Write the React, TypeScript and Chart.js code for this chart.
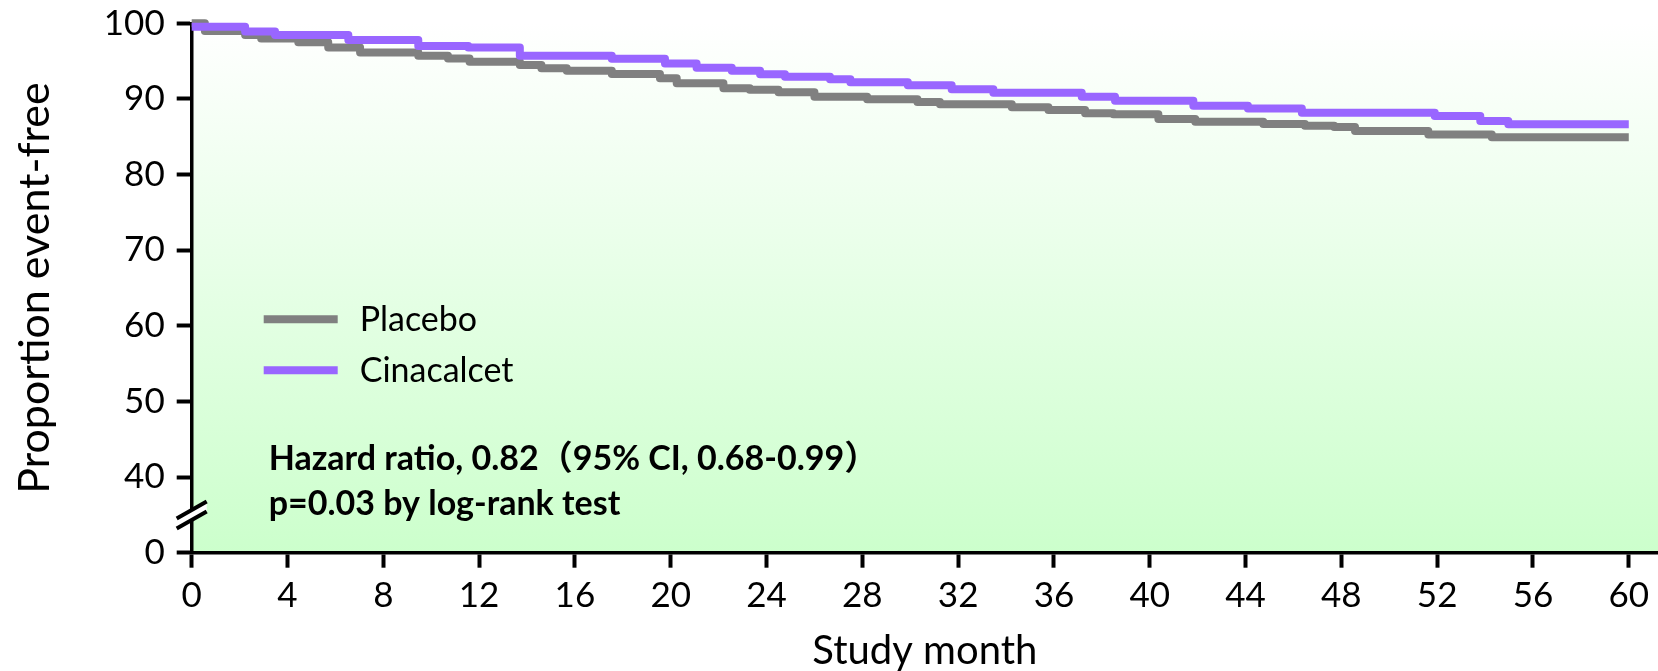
import React, { useEffect, useRef } from 'react';
import { Chart, registerables } from 'chart.js';

Chart.register(...registerables);

// Kaplan–Meier curves: event times (months) and proportion event-free (%) after each step
const placeboMonths = [0, 0.55, 2.23, 2.9, 4.45, 5.7, 7.03, 9.46, 10.7, 11.6, 13.7, 14.6, 15.66, 17.54, 19.55, 20.25, 22.2, 23.3, 24.5, 26.0, 28.2, 30.3, 31.24, 34.24, 35.77, 37.3, 38.48, 40.36, 41.9, 44.74, 46.48, 47.7, 48.57, 51.63, 54.28, 60];
const placeboValues = [100, 98.98, 98.45, 98.0, 97.5, 96.8, 96.15, 95.7, 95.35, 94.9, 94.5, 94.05, 93.73, 93.3, 92.72, 92.06, 91.4, 91.2, 90.87, 90.3, 89.95, 89.6, 89.28, 88.9, 88.53, 88.1, 87.96, 87.34, 86.98, 86.7, 86.46, 86.3, 85.75, 85.3, 84.92, 84.92];

const cinacalcetMonths = [0, 2.23, 3.48, 6.54, 9.46, 11.55, 13.7, 17.54, 19.76, 21.08, 22.55, 23.73, 24.77, 26.65, 27.5, 29.9, 31.73, 33.47, 37.16, 38.55, 41.82, 44.1, 46.35, 51.9, 53.8, 54.97, 60];
const cinacalcetValues = [99.55, 98.9, 98.45, 97.8, 97.0, 96.8, 95.7, 95.3, 94.7, 94.13, 93.73, 93.25, 92.94, 92.6, 92.2, 91.8, 91.27, 90.82, 90.3, 89.76, 89.1, 88.75, 88.17, 87.74, 87.08, 86.64, 86.64];

const monthTicks = [0, 4, 8, 12, 16, 20, 24, 28, 32, 36, 40, 44, 48, 52, 56, 60];
const percentTicks = [0, 40, 50, 60, 70, 80, 90, 100];

const legendLabels = ['Placebo', 'Cinacalcet'];
const annotationLines = ['Hazard ratio, 0.82（95% CI, 0.68-0.99）', 'p=0.03 by log-rank test'];

const GRAY = 'rgb(128,128,128)';
const PURPLE = 'rgb(153,102,255)';
const FONT = 'Lato, "Noto Sans CJK SC", sans-serif';

// The y axis is broken between 0 and 40: values of 40 and above are shifted down by 30
const BREAK_SHIFT = 30;
const toAxis = (v: number) => (v === 0 ? 0 : v - BREAK_SHIFT);
const fromAxis = (v: number) => (v === 0 ? 0 : v + BREAK_SHIFT);

const toPoints = (xs: number[], ys: number[]) => xs.map((x, i) => ({ x, y: toAxis(ys[i]) }));

const backgroundPlugin = {
  id: 'greenBackdrop',
  beforeDraw(chart: any) {
    const { ctx, chartArea: a } = chart;
    ctx.save();
    const g = ctx.createLinearGradient(0, a.top, 0, a.bottom);
    g.addColorStop(0, '#ffffff');
    g.addColorStop(1, '#ccffcc');
    ctx.fillStyle = g;
    ctx.fillRect(a.left, a.top, a.right - a.left, a.bottom - a.top);
    ctx.restore();
  },
};

const overlayPlugin = {
  id: 'overlay',
  afterDraw(chart: any) {
    const { ctx, chartArea: a, scales } = chart;
    ctx.save();

    // axis break marks between 0 and 40
    const yb = scales.y.getPixelForValue(5);
    const x0 = a.left - 15;
    const x1 = a.left + 15;
    const up0 = yb + 3.5, up1 = yb - 13.5;
    const lo0 = yb + 13.5, lo1 = yb - 3.5;
    ctx.fillStyle = '#ffffff';
    ctx.beginPath();
    ctx.moveTo(x0, up0);
    ctx.lineTo(x1, up1);
    ctx.lineTo(x1, lo1);
    ctx.lineTo(x0, lo0);
    ctx.closePath();
    ctx.fill();
    ctx.strokeStyle = '#000';
    ctx.lineWidth = 4;
    ctx.beginPath();
    ctx.moveTo(x0, up0);
    ctx.lineTo(x1, up1);
    ctx.moveTo(x0, lo0);
    ctx.lineTo(x1, lo1);
    ctx.stroke();

    // legend
    const colors = [GRAY, PURPLE];
    ctx.font = `34px ${FONT}`;
    ctx.textBaseline = 'middle';
    ctx.textAlign = 'left';
    legendLabels.forEach((label, i) => {
      const y = a.top + 296 + i * 51;
      ctx.strokeStyle = colors[i];
      ctx.lineWidth = 8;
      ctx.beginPath();
      ctx.moveTo(a.left + 72, y);
      ctx.lineTo(a.left + 146, y);
      ctx.stroke();
      ctx.fillStyle = '#000';
      ctx.fillText(label, a.left + 168, y + 1);
    });

    // statistics note
    ctx.font = `bold 34px ${FONT}`;
    ctx.textBaseline = 'alphabetic';
    annotationLines.forEach((line, i) => {
      ctx.fillText(line, a.left + 77, a.top + 447 + i * 45);
    });

    ctx.restore();
  },
};

export default function App() {
  const canvasRef = useRef<HTMLCanvasElement | null>(null);

  useEffect(() => {
    if (!canvasRef.current) return;
    const chart = new Chart(canvasRef.current, {
      type: 'line',
      data: {
        datasets: [
          {
            label: 'Cinacalcet',
            data: toPoints(cinacalcetMonths, cinacalcetValues),
            borderColor: PURPLE,
            borderWidth: 8,
            stepped: 'before',
            pointRadius: 0,
            borderJoinStyle: 'round',
            borderCapStyle: 'butt',
            clip: false,
            order: 0,
          },
          {
            label: 'Placebo',
            data: toPoints(placeboMonths, placeboValues),
            borderColor: GRAY,
            borderWidth: 8,
            stepped: 'before',
            pointRadius: 0,
            borderJoinStyle: 'round',
            borderCapStyle: 'butt',
            clip: false,
            order: 1,
          },
        ],
      },
      options: {
        animation: false,
        responsive: false,
        devicePixelRatio: 1,
        layout: { padding: { top: 23.3, left: 0, right: 0, bottom: 0 } },
        plugins: {
          legend: { display: false },
          tooltip: { enabled: false },
        },
        scales: {
          x: {
            type: 'linear',
            min: 0,
            max: 61.22,
            afterBuildTicks: (scale: any) => {
              scale.ticks = monthTicks.map((v) => ({ value: v }));
            },
            afterFit: (scale: any) => {
              scale.height = 671 - 552.7;
              scale.paddingLeft = 0;
              scale.paddingRight = 0;
            },
            grid: {
              drawOnChartArea: false,
              drawTicks: true,
              tickLength: 15,
              tickWidth: 4,
              tickColor: '#000',
            },
            border: { display: true, color: '#000', width: 3.5 },
            ticks: {
              color: '#000',
              font: { family: FONT, size: 35 },
              padding: 7,
              maxRotation: 0,
              autoSkip: false,
            },
            title: {
              display: true,
              text: 'Study month',
              color: '#000',
              font: { family: FONT, size: 40 },
              padding: { top: 0, bottom: -4 },
            },
          },
          y: {
            type: 'linear',
            min: 0,
            max: toAxis(100),
            afterBuildTicks: (scale: any) => {
              scale.ticks = percentTicks.map((v) => ({ value: toAxis(v) }));
            },
            afterFit: (scale: any) => {
              scale.width = 191.7;
              scale.paddingTop = 0;
              scale.paddingBottom = 0;
            },
            grid: {
              drawOnChartArea: false,
              drawTicks: true,
              tickLength: 15,
              tickWidth: 4,
              tickColor: '#000',
            },
            border: { display: true, color: '#000', width: 3.5 },
            ticks: {
              color: '#000',
              font: { family: FONT, size: 35 },
              padding: 12,
              autoSkip: false,
              callback: (v: any) => String(fromAxis(Number(v))),
            },
            title: {
              display: true,
              text: 'Proportion event-free',
              color: '#000',
              font: { family: FONT, size: 43 },
              padding: { top: 9, bottom: 0 },
            },
          },
        },
      },
      plugins: [backgroundPlugin, overlayPlugin],
    });
    return () => chart.destroy();
  }, []);

  return (
    <div style={{ position: 'absolute', left: 0, top: 0, width: 1658, height: 671 }}>
      <canvas ref={canvasRef} width={1658} height={671} style={{ width: 1658, height: 671, display: 'block' }} />
    </div>
  );
}
